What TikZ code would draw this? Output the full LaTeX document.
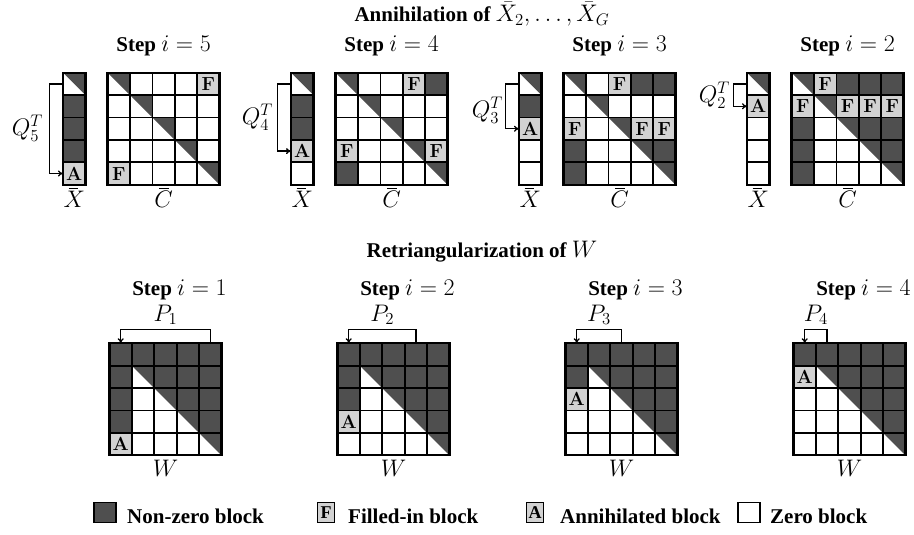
\RequirePackage{fix-cm}
\documentclass[tikz,border=0pt]{standalone}
\usepackage{graphicx}
\usepackage[no-math]{fontspec}
\setmainfont{Liberation Serif}
\usetikzlibrary{arrows.meta,calc}
\definecolor{dk}{HTML}{4F4F4F}
\definecolor{lg}{HTML}{D2D2D2}
\newcommand\mymath[1]{\scalebox{1.14}{$#1$}}
\newcommand\barlbl[2]{\rlap{\kern#2\rule[17.6pt]{9.5pt}{0.9pt}}\mymath{#1}}
\def\txtF{$\mathbf{F}$}
\def\txtA{$\mathbf{A}$}
\def\txtD{}
\def\txtW{}
\def\txtT{}
\tikzset{
 cellbase/.style={minimum size=22.4pt, inner sep=0pt, outer sep=0pt, draw=none, font=\fontsize{19}{19}\selectfont},
 cellW/.style={cellbase, fill=white},
 cellD/.style={cellbase, fill=dk},
 cellF/.style={cellbase, fill=lg},
 cellA/.style={cellbase, fill=lg},
 cellT/.style={cellbase, fill=white, path picture={\fill[dk] (path picture bounding box.north west) -- (path picture bounding box.north east) -- (path picture bounding box.south east) -- cycle;}},
 gridln/.style={line width=1.7pt, line cap=rect},
 border/.style={line width=2.3pt},
 arr/.style={line width=1.3pt, -{To[length=5pt,width=6pt]}},
 ttl/.style={font=\fontsize{21}{25}\selectfont\bfseries, anchor=base, inner sep=0pt},
 lbl/.style={font=\fontsize{21}{25}\selectfont, anchor=base, inner sep=0pt},
 qlbl/.style={font=\fontsize{21}{25}\selectfont, anchor=east, inner sep=0pt},
 legtxt/.style={font=\fontsize{21}{25}\selectfont\bfseries, anchor=base west, inner sep=0pt},
 legbox/.style={minimum height=20pt, inner sep=0pt, draw=black, line width=1.2pt, font=\fontsize{18}{18}\selectfont\bfseries},
}
\newcommand\mgrid[5]{% #1 name, #2 left, #3 top, #4 ncols, #5 codes
  \foreach \cd [count=\k from 0] in {#5} {
    \pgfmathtruncatemacro\mrow{div(\k,#4)}
    \pgfmathtruncatemacro\mcol{mod(\k,#4)}
    \node[cell\cd] (#1-\mrow-\mcol) at ({#2+(\mcol+0.5)*22.4},{#3+(\mrow+0.5)*22.4}) {\csname txt\cd\endcsname};
  }
  \foreach \i in {1,...,#4} {\ifnum\i<#4 \draw[gridln] ({#2+\i*22.4},#3) -- ({#2+\i*22.4},{#3+112});\fi}
  \foreach \j in {1,...,4} {\draw[gridln] (#2,{#3+\j*22.4}) -- ({#2+#4*22.4},{#3+\j*22.4});}
  \draw[border] (#2,#3) rectangle ({#2+#4*22.4},{#3+112});
}
\begin{document}
\begin{tikzpicture}[x=1pt,y=-1pt]
\useasboundingbox (0,0) rectangle (914,535);

% ---------- titles ----------
\node[ttl] (t1) at (482,22) {Annihilation of \mymath{\bar X_2,\dots,\bar X_G}};
\node[ttl] (t2) at (482,257) {Retriangularization of \mymath{W}};

% ---------- top row ----------
% step 5
\mgrid{x5}{63}{72.7}{1}{T,D,D,D,A}
\mgrid{c5}{107.6}{72.7}{5}{T,W,W,W,F, W,T,W,W,W, W,W,T,W,W, W,W,W,T,W, F,W,W,W,T}
\node[ttl] (s5) at (163.6,52) {Step \mymath{i=5}};
\node[lbl] (xl5) at (74.2,207) {\barlbl{X}{5pt}};
\node[lbl] (cl5) at (163.6,207) {\barlbl{C}{5pt}};
\draw[arr] (x5-0-0.west) -- ++(-13.5,0) |- (x5-4-0.west);
\node[qlbl] (q5) at (43,128) {\mymath{Q_5^T}};

% step 4
\mgrid{x4}{291}{72.7}{1}{T,D,D,A,W}
\mgrid{c4}{335.6}{72.7}{5}{T,W,W,F,D, W,T,W,W,W, W,W,T,W,W, F,W,W,T,F, D,W,W,W,T}
\node[ttl] (s4) at (391.6,52) {Step \mymath{i=4}};
\node[lbl] (xl4) at (302.2,207) {\barlbl{X}{5pt}};
\node[lbl] (cl4) at (391.6,207) {\barlbl{C}{5pt}};
\draw[arr] (x4-0-0.west) -- ++(-13.5,0) |- (x4-3-0.west);
\node[qlbl] (q4) at (273,117) {\mymath{Q_4^T}};

% step 3
\mgrid{x3}{519}{72.7}{1}{T,D,A,W,W}
\mgrid{c3}{563.6}{72.7}{5}{T,W,F,D,D, W,T,W,W,W, F,W,T,F,F, D,W,W,T,D, D,W,W,W,T}
\node[ttl] (s3) at (619.6,52) {Step \mymath{i=3}};
\node[lbl] (xl3) at (530.2,207) {\barlbl{X}{5pt}};
\node[lbl] (cl3) at (619.6,207) {\barlbl{C}{5pt}};
\draw[arr] (x3-0-0.west) -- ++(-13.5,0) |- (x3-2-0.west);
\node[qlbl] (q3) at (503,110) {\mymath{Q_3^T}};

% step 2
\mgrid{x2}{747}{72.7}{1}{T,A,W,W,W}
\mgrid{c2}{791.6}{72.7}{5}{T,F,D,D,D, F,T,F,F,F, D,W,T,D,D, D,W,W,T,D, D,W,W,W,T}
\node[ttl] (s2) at (847.6,52) {Step \mymath{i=2}};
\node[lbl] (xl2) at (758.2,207) {\barlbl{X}{5pt}};
\node[lbl] (cl2) at (847.6,207) {\barlbl{C}{5pt}};
\draw[arr] (x2-0-0.west) -- ++(-13.5,0) |- (x2-1-0.west);
\node[qlbl] (q2) at (730,95) {\mymath{Q_2^T}};

% ---------- bottom row ----------
\mgrid{w1}{109.5}{343.3}{5}{D,D,D,D,D, D,T,D,D,D, D,W,T,D,D, D,W,W,T,D, A,W,W,W,T}
\node[ttl] (b1) at (179.5,295) {Step \mymath{i=1}};
\draw[arr] (w1-0-4.north) -- ++(0,-14) -| (w1-0-0.north);
\node[lbl] (p1) at (165.5,321) {\mymath{P_1}};
\node[lbl] (wl1) at (165.5,476) {\mymath{W}};

\mgrid{w2}{337.5}{343.3}{5}{D,D,D,D,D, D,T,D,D,D, D,W,T,D,D, A,W,W,T,D, W,W,W,W,T}
\node[ttl] (b2) at (407.5,295) {Step \mymath{i=2}};
\draw[arr] (w2-0-3.north) -- ++(0,-14) -| (w2-0-0.north);
\node[lbl] (p2) at (382.3,321) {\mymath{P_2}};
\node[lbl] (wl2) at (393.5,476) {\mymath{W}};

\mgrid{w3}{565.5}{343.3}{5}{D,D,D,D,D, D,T,D,D,D, A,W,T,D,D, W,W,W,T,D, W,W,W,W,T}
\node[ttl] (b3) at (635.5,295) {Step \mymath{i=3}};
\draw[arr] (w3-0-2.north) -- ++(0,-14) -| (w3-0-0.north);
\node[lbl] (p3) at (599,321) {\mymath{P_3}};
\node[lbl] (wl3) at (621.5,476) {\mymath{W}};

\mgrid{w4}{793.5}{343.3}{5}{D,D,D,D,D, A,T,D,D,D, W,W,T,D,D, W,W,W,T,D, W,W,W,W,T}
\node[ttl] (b4) at (863.5,295) {Step \mymath{i=4}};
\draw[arr] (w4-0-1.north) -- ++(0,-14) -| (w4-0-0.north);
\node[lbl] (p4) at (815.9,321) {\mymath{P_4}};
\node[lbl] (wl4) at (849.5,476) {\mymath{W}};

% ---------- legend ----------
\node[legbox, fill=dk, minimum width=22pt] (lb1) at (105,512.3) {};
\node[legtxt] (lt1) at (127,523) {Non-zero block};
\node[legbox, fill=lg, minimum width=17pt] (lb2) at (326,512.3) {F};
\node[legtxt] (lt2) at (348,523) {Filled-in block};
\node[legbox, fill=lg, minimum width=17pt] (lb3) at (535,512.3) {A};
\node[legtxt] (lt3) at (560,523) {Annihilated block};
\node[legbox, fill=white, minimum width=22pt] (lb4) at (749,512.3) {};
\node[legtxt] (lt4) at (770,523) {Zero block};
\end{tikzpicture}
\end{document}
